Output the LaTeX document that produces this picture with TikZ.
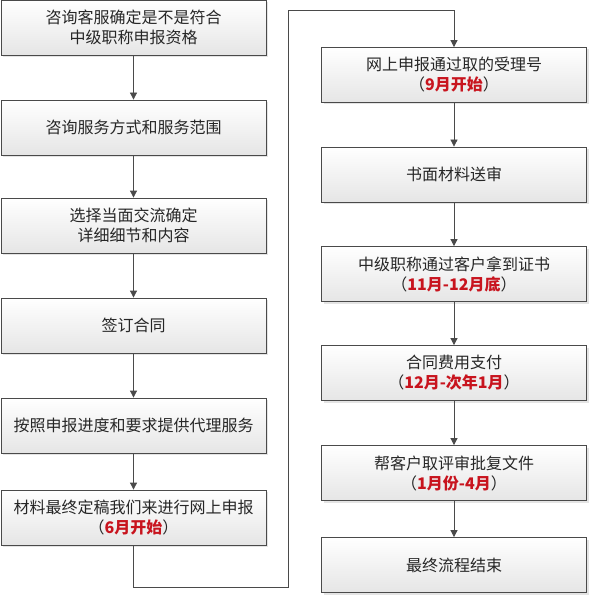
\documentclass[tikz,border=0pt]{standalone}
\usepackage{fontspec}
\setmainfont{Noto Sans CJK SC}
\usetikzlibrary{arrows.meta,shadows}
\definecolor{boxline}{HTML}{4A4A4A}
\definecolor{txt}{HTML}{262626}
\definecolor{hl}{HTML}{C8141E}
\newcommand{\hlt}[1]{（\textcolor{hl}{\bfseries #1}）}
\begin{document}
\begin{tikzpicture}[x=1pt,y=-1pt,
  stepbox/.style={draw=boxline,line width=0.8pt,rectangle,
    top color=white,bottom color=gray!20,
    drop shadow={shadow xshift=2pt,shadow yshift=-2pt,fill=gray!35,opacity=0.6},
    minimum width=265pt,minimum height=55pt,align=center,
    text=txt,font=\fontsize{16}{20}\selectfont,inner sep=0pt},
  arr/.style={draw=boxline,line width=0.8pt,-{Triangle[length=7pt,width=7pt]}}]
\useasboundingbox (0,0) rectangle (589,596);
\fill[white] (0,0) rectangle (589,596);
% left column
\node[stepbox] (L1) at (133.5,27.5) {咨询客服确定是不是符合\\中级职称申报资格};
\node[stepbox] (L2) at (133.5,127.5) {咨询服务方式和服务范围};
\node[stepbox] (L3) at (133.5,225.5) {选择当面交流确定\\详细细节和内容};
\node[stepbox] (L4) at (133.5,325.5) {签订合同};
\node[stepbox] (L5) at (133.5,425.5) {按照申报进度和要求提供代理服务};
\node[stepbox] (L6) at (133.5,517.5) {材料最终定稿我们来进行网上申报\\\hlt{6月开始}};
% right column
\node[stepbox] (R1) at (454,75) {网上申报通过取的受理号\\\hlt{9月开始}};
\node[stepbox] (R2) at (454,174.5) {书面材料送审};
\node[stepbox] (R3) at (454,274) {中级职称通过客户拿到证书\\\hlt{11月-12月底}};
\node[stepbox] (R4) at (454,373) {合同费用支付\\\hlt{12月-次年1月}};
\node[stepbox] (R5) at (454,473) {帮客户取评审批复文件\\\hlt{1月份-4月}};
\node[stepbox] (R6) at (454,565) {最终流程结束};
% connectors
\draw[arr] (L1) -- (L2);
\draw[arr] (L2) -- (L3);
\draw[arr] (L3) -- (L4);
\draw[arr] (L4) -- (L5);
\draw[arr] (L5) -- (L6);
\coordinate (c2) at (288,587);
\coordinate (c3) at (288,10);
\draw[arr] (L6.south) |- (c2) -- (c3) -| (R1.north);
\draw[arr] (R1) -- (R2);
\draw[arr] (R2) -- (R3);
\draw[arr] (R3) -- (R4);
\draw[arr] (R4) -- (R5);
\draw[arr] (R5) -- (R6);
\end{tikzpicture}
\end{document}
